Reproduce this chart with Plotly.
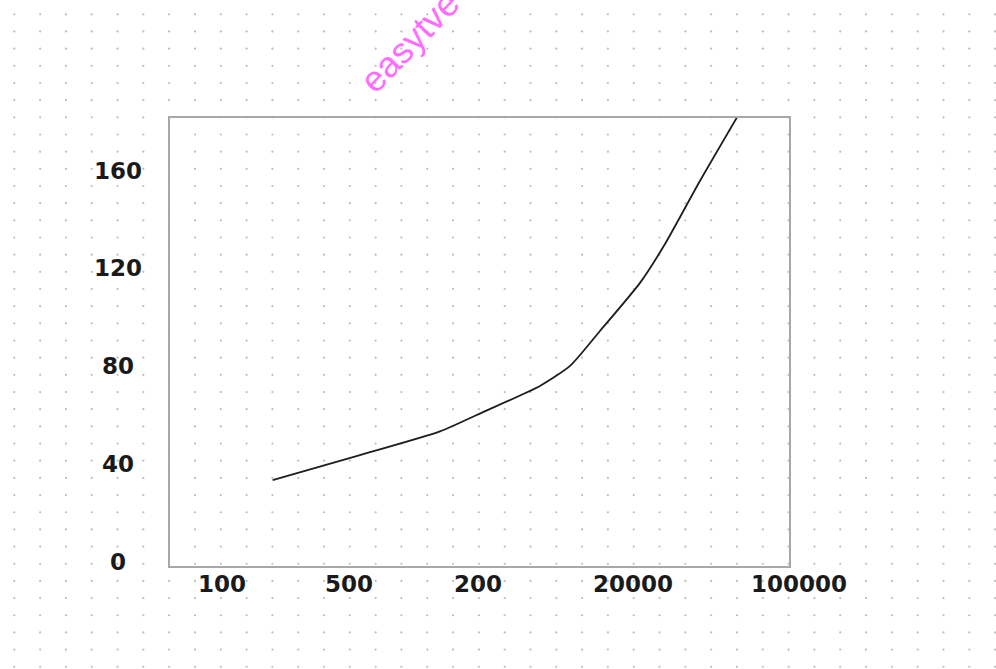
import base64
import plotly.graph_objects as go

# ---- data ----
x_tick_pos = [1.0, 1.99, 3.0, 4.21, 5.51]
x_tick_text = ["100", "500", "200", "20000", "100000"]
y_tick_vals = [0, 40, 80, 120, 160]
y_tick_text = ["0", "40", "80", "120", "160"]

line_x = [1.396, 2.078, 2.703, 3.039, 3.484, 3.719, 3.953, 4.266, 4.461, 4.734, 5.023]
line_y = [33.4, 43.6, 53.3, 61.2, 71.9, 80.1, 94.4, 114.1, 130.0, 155.8, 181.8]

W, H = 996, 669
X_DOM = [170 / W, 789 / W]
Y_DOM = [(H - 566) / H, (H - 118) / H]
X_RANGE = [0.594, 5.430]
Y_RANGE = [-1.8, 181.6]

# ---- dotted page background (decoration) ----
circles = []
nx = int((W - 14.3) / 25.81) + 1
ny = int((H - 14.3) / 17.17) + 1
for i in range(nx):
    for j in range(ny):
        cx = 14.3 + 25.81 * i
        cy = 14.3 + 17.17 * j
        circles.append(f'<circle cx="{cx:.2f}" cy="{cy:.2f}" r="1.1" fill="#bdbdbd"/>')
svg = (f'<svg xmlns="http://www.w3.org/2000/svg" width="{W}" height="{H}" '
       f'viewBox="0 0 {W} {H}"><rect width="{W}" height="{H}" fill="white"/>'
       + "".join(circles) + "</svg>")
bg_src = "data:image/svg+xml;base64," + base64.b64encode(svg.encode()).decode()

fig = go.Figure()
fig.add_trace(go.Scatter(
    x=line_x, y=line_y, mode="lines",
    line=dict(color="#1e1e1e", width=1.8, shape="spline", smoothing=0.6),
    showlegend=False, hoverinfo="skip",
))

font_lbl = dict(family="DejaVu Sans, Verdana, sans-serif", size=23, color="#1a1a1a")


def x_to_paper(v):
    return X_DOM[0] + (v - X_RANGE[0]) / (X_RANGE[1] - X_RANGE[0]) * (X_DOM[1] - X_DOM[0])


annotations = []
for v, t in zip(y_tick_vals, y_tick_text):
    annotations.append(dict(
        x=118 / W, xref="paper", y=v, yref="y", text=f"<b>{t}</b>",
        showarrow=False, xanchor="center", yanchor="middle", font=font_lbl,
    ))
for v, t in zip(x_tick_pos, x_tick_text):
    annotations.append(dict(
        x=x_to_paper(v), xref="paper", y=(H - 584) / H, yref="paper", text=f"<b>{t}</b>",
        showarrow=False, xanchor="center", yanchor="middle", font=font_lbl,
    ))
annotations.append(dict(
    x=410 / W, y=(H - 42) / H, xref="paper", yref="paper", text="easytve",
    showarrow=False, textangle=-46, xanchor="center", yanchor="middle",
    font=dict(family="Liberation Sans, Arial, sans-serif", size=36, color="#ff6cff"),
))

fig.update_layout(
    width=W, height=H,
    margin=dict(l=0, r=0, t=0, b=0),
    paper_bgcolor="white",
    plot_bgcolor="white",
    images=[dict(source=bg_src, xref="paper", yref="paper", x=0, y=1,
                 sizex=1, sizey=1, xanchor="left", yanchor="top",
                 sizing="stretch", layer="below")],
    xaxis=dict(domain=X_DOM, range=X_RANGE,
               showgrid=False, zeroline=False, showticklabels=False, ticks="",
               showline=True, mirror=True, linecolor="#a8a8a8", linewidth=2),
    yaxis=dict(domain=Y_DOM, range=Y_RANGE,
               showgrid=False, zeroline=False, showticklabels=False, ticks="",
               showline=True, mirror=True, linecolor="#a8a8a8", linewidth=2),
    annotations=annotations,
)

fig.write_html("out.html", config={"displayModeBar": False},
               post_script="document.body.style.margin='0';")
